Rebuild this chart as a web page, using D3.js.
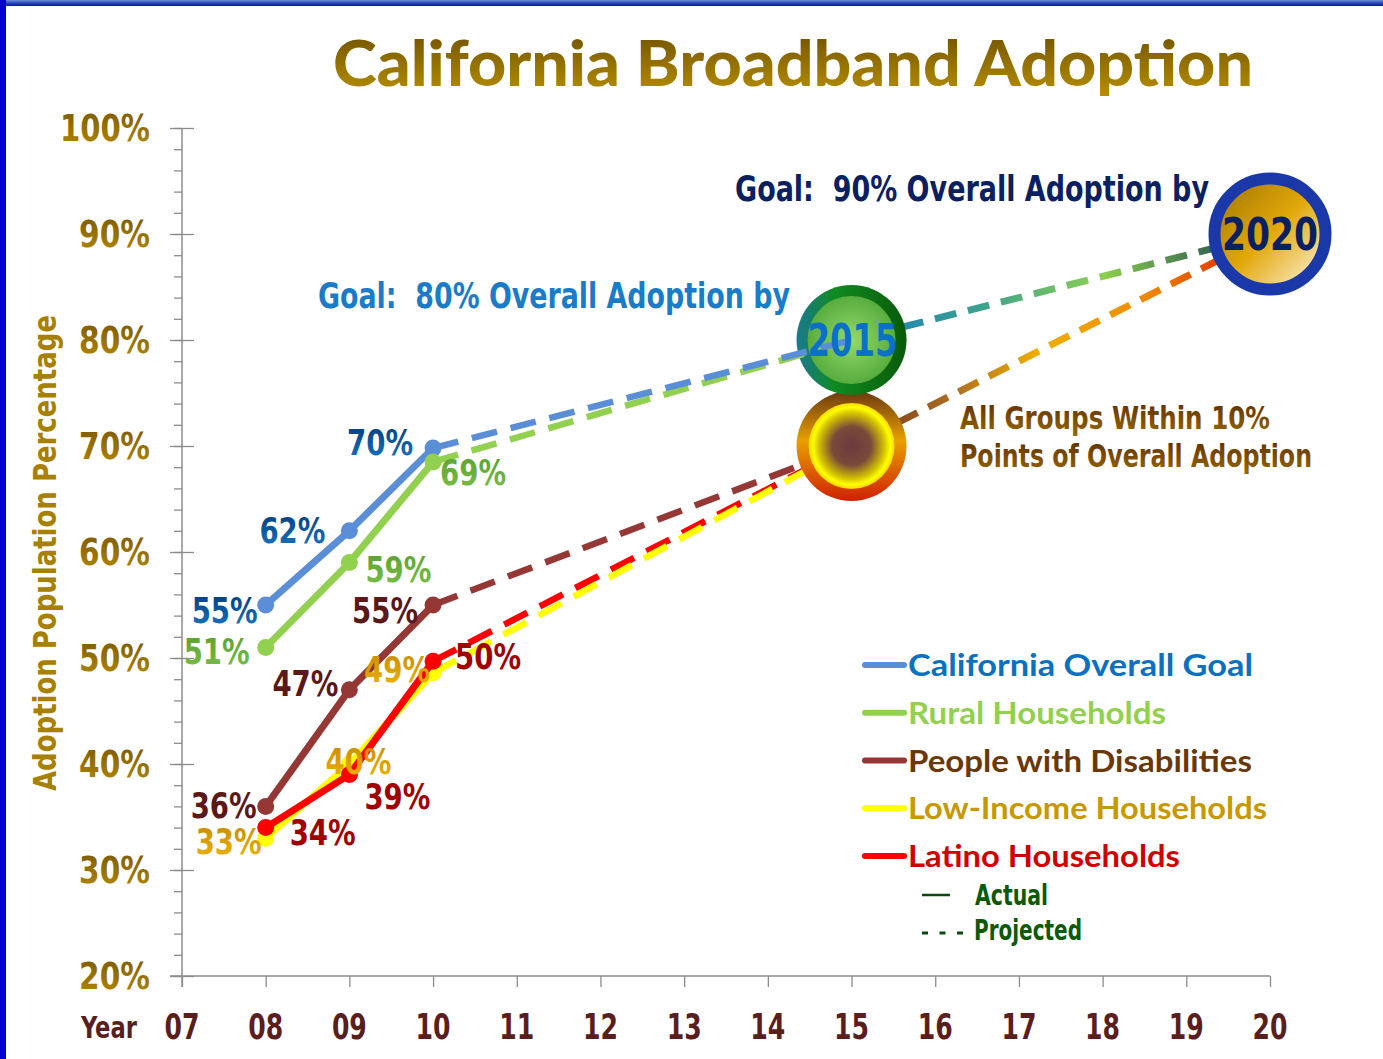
<!DOCTYPE html>
<html>
<head>
<meta charset="utf-8">
<script src="https://cdn.jsdelivr.net/npm/d3@7"></script>
<style>
  html, body { margin: 0; padding: 0; background: #fff; }
  svg { display: block; }
  text { white-space: pre; }
</style>
</head>
<body>
<svg id="chart" width="1383" height="1059"></svg>
<script>
(function () {
    'use strict';

    // ---- data ----
    const actualYears = [2008, 2009, 2010];
    const projYears = [2010, 2015, 2020];
    const xTicks = [2007, 2008, 2009, 2010, 2011, 2012, 2013, 2014, 2015, 2016, 2017, 2018, 2019, 2020];
    const xTickLabels = ["07", "08", "09", "10", "11", "12", "13", "14", "15", "16", "17", "18", "19", "20"];
    const yTicks = [20, 30, 40, 50, 60, 70, 80, 90, 100];

    const seriesNames = ["California Overall Goal", "Rural Households", "People with Disabilities",
        "Low-Income Households", "Latino Households"];
    const overallActual = [55, 62, 69.8];
    const ruralActual = [51, 59, 68.5];
    const disabilitiesActual = [36, 47, 55];
    const lowIncomeActual = [33, 40, 48.6];
    const latinoActual = [34, 39, 49.7];
    const goal2015Upper = 80;   // overall + rural by 2015
    const goal2015Lower = 70;   // other groups by 2015
    const goal2020 = 90;

    const WIDTH = 1383, HEIGHT = 1059;
    const NARROW = "'Liberation Sans Narrow','DejaVu Sans Condensed','Arial Narrow',sans-serif";
    const ROUND = "Lato,'DejaVu Sans',sans-serif";

    const svg = d3.select("#chart");
    const defs = svg.append("defs");

    const x = d3.scaleLinear().domain([2007, 2020]).range([182, 1270]);
    const y = d3.scaleLinear().domain([20, 100]).range([976, 128]);

    function linGrad(id, stops, x1, y1, x2, y2, user) {
        let g = defs.append("linearGradient").attr("id", id)
            .attr("x1", x1).attr("y1", y1).attr("x2", x2).attr("y2", y2);
        if (user) g.attr("gradientUnits", "userSpaceOnUse");
        stops.forEach(s => g.append("stop").attr("offset", s[0]).attr("stop-color", s[1]));
    }
    function radGrad(id, stops, cx, cy, r) {
        let g = defs.append("radialGradient").attr("id", id)
            .attr("cx", cx || "50%").attr("cy", cy || "50%").attr("r", r || "50%");
        stops.forEach(s => g.append("stop").attr("offset", s[0]).attr("stop-color", s[1]));
    }

    linGrad("gTitle", [[0, "#6a4c00"], [1, "#ba9200"]], 0, 0, 0, 1);
    linGrad("gYLab", [[0, "#7a5800"], [1, "#b48a00"]], 0, 0, 0, 1);
    linGrad("gBlueLab", [[0, "#003a7a"], [1, "#1a78c8"]], 0, 0, 0, 1);
    linGrad("gGreenLab", [[0, "#5aa030"], [1, "#7cc048"]], 0, 0, 0, 1);
    linGrad("gGoldLab", [[0, "#c88a00"], [1, "#f0b400"]], 0, 0, 0, 1);
    linGrad("gGroups", [[0, "#5a2c00"], [1, "#9a6a00"]], 0, 0, 0, 1);
    linGrad("gTopBar", [[0, "#6d8fd8"], [0.5, "#2848c0"], [1, "#0a18a0"]], 0, 0, 0, 1);

    // projected 2015 -> 2020 colour runs
    linGrad("gUpper", [[0, "#1a7cc0"], [0.3, "#3aa090"], [0.6, "#8cd050"], [0.85, "#3a6a50"], [1, "#1a3a60"]],
        x(2015), 0, x(2020), 0, true);
    linGrad("gLower", [[0, "#6a3020"], [0.25, "#b07020"], [0.45, "#f0b000"], [0.7, "#f08a00"], [0.88, "#e04000"], [1, "#d00000"]],
        x(2015), 0, x(2020), 0, true);

    // milestone circles
    linGrad("g2020", [[0, "#9a7200"], [0.5, "#e2a80a"], [1, "#fffaf0"]], 0, 0, 1, 1);
    linGrad("g15Ring", [[0, "#1a7a90"], [0.35, "#108a20"], [1, "#0a5a0a"]], 0, 0, 1, 0);
    radGrad("g15Inner", [[0, "#92da6a"], [1, "#58ac3e"]]);
    linGrad("gLowRing", [[0, "#6a3810"], [0.45, "#e8a000"], [1, "#d02000"]], 0, 0, 0, 1);
    radGrad("gLowInner", [[0, "#6a3a40"], [0.45, "#7a4a3a"], [0.78, "#d8c800"], [0.9, "#ffff00"], [1, "#ffd800"]]);

    // frame
    svg.append("rect").attr("x", 0).attr("y", 0).attr("width", WIDTH).attr("height", 6).attr("fill", "url(#gTopBar)");
    svg.append("rect").attr("x", 0).attr("y", 0).attr("width", 6).attr("height", HEIGHT).attr("fill", "#0000cc");

    function txt(str, px, py, o) {
        let t = svg.append("text").text(str)
            .attr("x", px).attr("y", py)
            .attr("font-family", o.font || NARROW)
            .attr("font-weight", o.weight || "bold")
            .attr("font-size", o.size)
            .attr("fill", o.fill)
            .attr("text-anchor", o.anchor || "start");
        if (o.len) t.attr("textLength", o.len).attr("lengthAdjust", "spacingAndGlyphs");
        if (o.rotate) t.attr("transform", o.rotate);
        return t;
    }

    // title
    txt("California Broadband Adoption", 793, 86, { size: 62, fill: "url(#gTitle)", anchor: "middle", len: 920, font: ROUND, weight: 900 });

    // ---- axes ----
    const minorTicks = d3.range(20, 101, 2);
    const axisG = svg.append("g").attr("class", "axes");
    axisG.append("g").attr("transform", "translate(182,0)")
        .call(d3.axisLeft(y).tickValues(minorTicks).tickSize(8).tickFormat(""));
    axisG.append("g").attr("transform", "translate(182,0)")
        .call(d3.axisLeft(y).tickValues(yTicks).tickSize(12).tickFormat(""));
    axisG.append("g").attr("transform", "translate(182,0)")
        .call(d3.axisRight(y).tickValues(yTicks).tickSize(12).tickFormat(""));
    axisG.append("g").attr("transform", "translate(0,976)")
        .call(d3.axisBottom(x).tickValues(xTicks).tickSize(11).tickFormat(""));
    axisG.selectAll(".domain").remove();
    axisG.selectAll("line").attr("stroke", "#8c8c8c").attr("stroke-width", 1.3);
    axisG.append("line").attr("x1", 182).attr("x2", 182).attr("y1", y(100)).attr("y2", 987)
        .attr("stroke", "#8c8c8c").attr("stroke-width", 1.5);
    axisG.append("line").attr("x1", 170).attr("x2", x(2020)).attr("y1", 976).attr("y2", 976)
        .attr("stroke", "#8c8c8c").attr("stroke-width", 1.5);

    yTicks.forEach(v => {
        txt(v + "%", 150, y(v) + 13, { size: 37, fill: "url(#gYLab)", anchor: "end", len: v === 100 ? 90 : 71 });
    });
    xTicks.forEach((v, i) => {
        txt(xTickLabels[i], x(v), 1039, { size: 36, fill: "#5a1e1e", anchor: "middle", len: 35 });
    });
    txt("Year", 109, 1038, { size: 30, fill: "#5a1e1e", anchor: "middle", len: 56 });
    txt("Adoption Population Percentage", 0, 0, {
        size: 32, fill: "#a88000", anchor: "middle", len: 476,
        rotate: "translate(56,553) rotate(-90)"
    });

    // ---- series ----
    const series = [
        { name: seriesNames[0], actual: overallActual, p2015: goal2015Upper, color: "#5a8fd8", lab: "url(#gBlueLab)", legend: "#0a70c0" },
        { name: seriesNames[1], actual: ruralActual, p2015: goal2015Upper, color: "#92d050", lab: "url(#gGreenLab)", legend: "#92d050" },
        { name: seriesNames[2], actual: disabilitiesActual, p2015: goal2015Lower, color: "#953735", lab: "#5a1818", legend: "#6a3808" },
        { name: seriesNames[3], actual: lowIncomeActual, p2015: goal2015Lower, color: "#ffff00", lab: "url(#gGoldLab)", legend: "#c89800" },
        { name: seriesNames[4], actual: latinoActual, p2015: goal2015Lower, color: "#ff0000", lab: "#a00000", legend: "#d00000" }
    ];
    // label placement for each point: [dx, dy(centre), anchor]
    const labelLayout = [
        [[-8, 6, "end"], [-24, 0, "end"], [-20, -5, "end"]],
        [[-16, 5, "end"], [16, 7, "start"], [7, 11, "start"]],
        [[-9, 0, "end"], [-11, -6, "end"], [-15, 6, "end"]],
        [[-4, 4, "end"], [-24, -2, "start"], [-3, -3, "end"]],
        [[24, 5, "start"], [15, 22, "start"], [22, -4, "start"]]
    ];

    const line = d3.line().x(d => x(d[0])).y(d => y(d[1]));

    // 2015 -> 2020 projections (one run for the upper pair, one for the other groups)
    svg.append("path").datum([[2015, goal2015Upper], [2020, goal2020]]).attr("d", line)
        .attr("fill", "none").attr("stroke", "url(#gUpper)").attr("stroke-width", 7).attr("stroke-dasharray", "22 12")
        .attr("stroke-dashoffset", -52);
    svg.append("path").datum([[2015, goal2015Lower], [2020, goal2020]]).attr("d", line)
        .attr("fill", "none").attr("stroke", "url(#gLower)").attr("stroke-width", 7).attr("stroke-dasharray", "22 12")
        .attr("stroke-dashoffset", -52);

    function projected(s) {
        svg.append("path").datum([[projYears[0], s.actual[2]], [projYears[1], s.p2015]]).attr("d", line)
            .attr("fill", "none").attr("stroke", s.color).attr("stroke-width", 6.5)
            .attr("stroke-dasharray", "26 14");
    }
    // lower groups' projections pass under the 2015 circle
    [series[2], series[4], series[3]].forEach(projected);

    // milestone circles
    const c15u = [x(2015), y(goal2015Upper)], c15l = [x(2015), y(goal2015Lower)], c20 = [x(2020), y(goal2020)];
    svg.append("circle").attr("cx", c15l[0]).attr("cy", c15l[1]).attr("r", 55).attr("fill", "url(#gLowRing)");
    svg.append("circle").attr("cx", c15l[0]).attr("cy", c15l[1]).attr("r", 43).attr("fill", "url(#gLowInner)");
    svg.append("circle").attr("cx", c15u[0]).attr("cy", c15u[1]).attr("r", 55).attr("fill", "url(#g15Ring)");
    svg.append("circle").attr("cx", c15u[0]).attr("cy", c15u[1]).attr("r", 44).attr("fill", "url(#g15Inner)");
    svg.append("circle").attr("cx", c20[0]).attr("cy", c20[1]).attr("r", 55.5).attr("fill", "url(#g2020)")
        .attr("stroke", "#1a38a8").attr("stroke-width", 12);

    [series[1], series[0]].forEach(projected);

    // actual lines + points
    [0, 1, 2, 3, 4].forEach(i => {
        let s = series[i];
        let pts = actualYears.map((yr, j) => [yr, s.actual[j]]);
        svg.append("path").datum(pts).attr("d", line)
            .attr("fill", "none").attr("stroke", s.color).attr("stroke-width", 7)
            .attr("stroke-linecap", "round").attr("stroke-linejoin", "round");
        svg.selectAll(null).data(pts).enter().append("circle")
            .attr("cx", d => x(d[0])).attr("cy", d => y(d[1])).attr("r", 8.5).attr("fill", s.color);
    });

    // point labels
    series.forEach((s, i) => {
        s.actual.forEach((v, j) => {
            let l = labelLayout[i][j];
            txt(Math.round(v) + "%", x(actualYears[j]) + l[0], y(v) + l[1] + 12,
                { size: 35, fill: s.lab, anchor: l[2], len: 66 });
        });
    });

    // milestone text
    txt("2015", c15u[0] + 1, c15u[1] + 16, { size: 44, fill: "#0a70c8", anchor: "middle", len: 90 });
    txt("2020", c20[0], c20[1] + 16, { size: 44, fill: "#0a2060", anchor: "middle", len: 96 });
    txt("Goal:  80% Overall Adoption by", 318, 308, { size: 35, fill: "#1a7cc8", len: 472 });
    txt("Goal:  90% Overall Adoption by", 735, 201, { size: 35, fill: "#0a2060", len: 474 });
    txt("All Groups Within 10%", 960, 429, { size: 32, fill: "url(#gGroups)", len: 310 });
    txt("Points of Overall Adoption", 960, 467, { size: 32, fill: "url(#gGroups)", len: 352 });

    // ---- legend ----
    const legY = d3.scalePoint().domain(seriesNames).range([665, 856]);
    series.forEach(s => {
        let ly = legY(s.name);
        svg.append("line").attr("x1", 865).attr("x2", 904).attr("y1", ly).attr("y2", ly)
            .attr("stroke", s.color).attr("stroke-width", 6).attr("stroke-linecap", "round");
        txt(s.name, 908, ly + 11, { size: 30, fill: s.legend, font: ROUND, weight: 700,
            len: { "California Overall Goal": 345, "Rural Households": 258, "People with Disabilities": 344,
                "Low-Income Households": 359, "Latino Households": 272 }[s.name] });
    });
    svg.append("line").attr("x1", 922).attr("x2", 950).attr("y1", 895).attr("y2", 895)
        .attr("stroke", "#0a4a10").attr("stroke-width", 2.5);
    txt("Actual", 975, 905, { size: 29, fill: "#0a5a0a", len: 73 });
    svg.append("line").attr("x1", 922).attr("x2", 963).attr("y1", 933).attr("y2", 933)
        .attr("stroke", "#0a4a10").attr("stroke-width", 3).attr("stroke-dasharray", "6 11.5");
    txt("Projected", 974, 940, { size: 29, fill: "#0a5a0a", len: 108 });
})();
</script>
</body>
</html>
